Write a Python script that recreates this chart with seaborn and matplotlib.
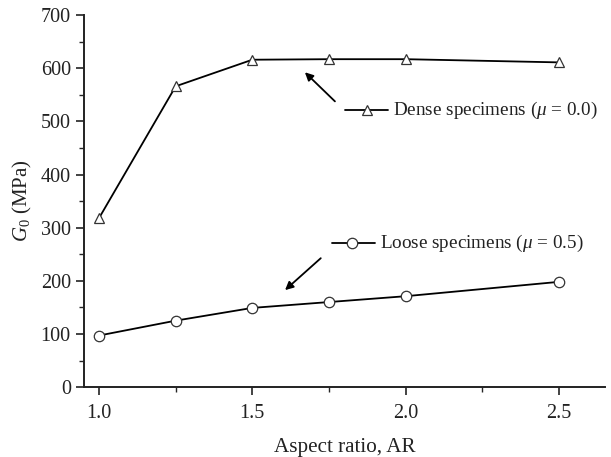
import matplotlib
matplotlib.use("Agg")
import matplotlib.pyplot as plt
import seaborn as sns
import pandas as pd
from matplotlib.ticker import MultipleLocator, FormatStrFormatter

aspect_ratio = [1.0, 1.25, 1.5, 1.75, 2.0, 2.5]
g0_dense = [318, 566, 616, 617, 617, 611]
g0_loose = [97, 125, 149, 160, 171, 198]
dense_label = r"Dense specimens ($\mu$ = 0.0)"
loose_label = r"Loose specimens ($\mu$ = 0.5)"

df = pd.DataFrame({
    "AR": aspect_ratio * 2,
    "G0": g0_dense + g0_loose,
    "group": ["dense"] * len(aspect_ratio) + ["loose"] * len(aspect_ratio),
})

sns.set_style("ticks")
plt.rcParams["font.family"] = ["Liberation Serif", "DejaVu Serif"]
plt.rcParams["mathtext.fontset"] = "custom"
plt.rcParams["mathtext.rm"] = "Liberation Serif"
plt.rcParams["mathtext.it"] = "Liberation Serif:italic"

fig = plt.figure(figsize=(6.11, 4.57), dpi=100)
ax = fig.add_axes([0.1375, 0.153, 0.8525, 0.814])

sns.lineplot(data=df, x="AR", y="G0", style="group", hue="group",
             palette={"dense": "black", "loose": "black"},
             markers={"dense": "^", "loose": "o"}, dashes=False,
             markersize=7.5, markerfacecolor="white", markeredgecolor="#333333",
             markeredgewidth=0.9, linewidth=1.3, legend=False, ax=ax)

ax.set_xlim(0.951, 2.65)
ax.set_ylim(0, 700)
ax.xaxis.set_major_locator(MultipleLocator(0.5))
ax.xaxis.set_minor_locator(MultipleLocator(0.25))
ax.yaxis.set_major_locator(MultipleLocator(100))
ax.yaxis.set_minor_locator(MultipleLocator(50))
ax.xaxis.set_major_formatter(FormatStrFormatter("%.1f"))
ax.tick_params(which="major", direction="out", length=6, width=1.2, labelsize=14.5, colors="#222222")
ax.tick_params(axis="x", which="major", pad=6)
ax.tick_params(which="minor", direction="out", length=3.5, width=1.0)
for s in ["left", "bottom"]:
    ax.spines[s].set_linewidth(1.4)
    ax.spines[s].set_color("#222222")
sns.despine(ax=ax)

ax.set_xlabel("Aspect ratio, AR", fontsize=15.2, color="#222222", labelpad=11)
ax.set_ylabel(r"$G_0$ (MPa)", fontsize=15, color="#222222", labelpad=5)

# in-plot keys with pointer arrows
ax.plot([1.802, 1.942], [521, 521], color="black", lw=1.3)
ax.plot([1.874], [521], marker="^", ms=7.5, mfc="white", mec="#333333", mew=0.9)
ax.text(1.959, 521, dense_label, fontsize=13.8, va="center", ha="left", color="#222222")
ax.annotate("", xy=(1.665, 596), xytext=(1.776, 534),
            arrowprops=dict(arrowstyle="-|>", color="black", lw=1.3, mutation_scale=12))

ax.plot([1.760, 1.900], [271, 271], color="black", lw=1.3)
ax.plot([1.825], [271], marker="o", ms=7.5, mfc="white", mec="#333333", mew=0.9)
ax.text(1.916, 271, loose_label, fontsize=13.8, va="center", ha="left", color="#222222")
ax.annotate("", xy=(1.600, 179), xytext=(1.730, 246),
            arrowprops=dict(arrowstyle="-|>", color="black", lw=1.3, mutation_scale=12))

fig.savefig("out.png", dpi=100)
